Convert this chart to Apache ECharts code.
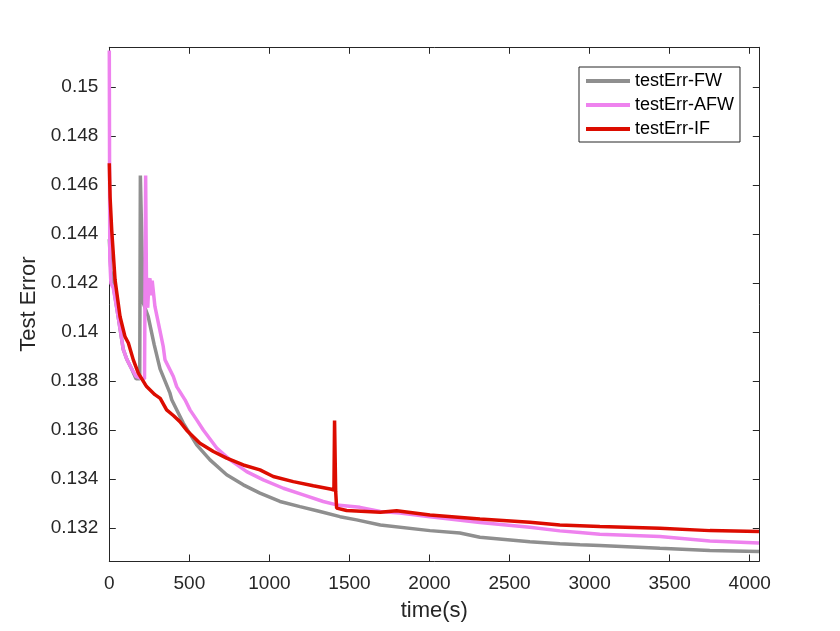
<!DOCTYPE html>
<html>
<head>
    <meta charset="utf-8">
    <title>Test Error vs time</title>
    <script src="https://cdn.jsdelivr.net/npm/echarts@6/dist/echarts.min.js"></script>
    <style>
        html, body { margin: 0; padding: 0; background: #fff; }
    </style>
</head>
<body>
    <div id="main" style="width: 840px;height:631px;"></div>

    <script type="text/javascript">

        // tick labels
        var xTicks = [0, 500, 1000, 1500, 2000, 2500, 3000, 3500, 4000];
        var yTicks = [0.132, 0.134, 0.136, 0.138, 0.14, 0.142, 0.144, 0.146, 0.148, 0.15];

        // testErr-FW (gray)
        var fwTime = [0, 10, 25, 56, 87, 109, 140, 167, 190, 194, 200, 212, 243, 280, 317, 379, 390, 462, 546, 629, 733, 837, 941, 1066, 1191, 1316, 1441, 1545, 1693, 2003, 2190, 2315, 2627, 2814, 2940, 3064, 3439, 3751, 4058];
        var fwErr  = [0.1438, 0.1425, 0.1419, 0.1406, 0.1393, 0.1389, 0.1385, 0.1381, 0.1381, 0.1464, 0.1464, 0.1412, 0.14064, 0.1395, 0.1385, 0.13751, 0.13724, 0.13629, 0.1354, 0.13479, 0.13418, 0.13377, 0.13343, 0.13309, 0.13288, 0.13268, 0.13247, 0.13234, 0.13213, 0.1319, 0.1318, 0.13163, 0.13145, 0.13136, 0.13132, 0.13129, 0.13118, 0.13109, 0.13105];

        // testErr-AFW (violet)
        var afwTime = [0, 3, 10, 25, 56, 87, 109, 140, 167, 202, 220, 227, 233, 240, 248, 254, 260, 268, 285, 337, 348, 400, 421, 473, 504, 546, 587, 671, 754, 858, 962, 1087, 1212, 1336, 1420, 1566, 1693, 1816, 2003, 2315, 2627, 2814, 2940, 3064, 3439, 3751, 4058];
        var afwErr  = [0.1515, 0.143, 0.142, 0.1418, 0.1406, 0.1393, 0.1389, 0.1385, 0.1382, 0.1381, 0.1381, 0.1464, 0.1412, 0.141, 0.1421, 0.1422, 0.1415, 0.1421, 0.14105, 0.13941, 0.13887, 0.13819, 0.13778, 0.13724, 0.13683, 0.13642, 0.13601, 0.13527, 0.13479, 0.13431, 0.13397, 0.13363, 0.13336, 0.13309, 0.13295, 0.13285, 0.13268, 0.13262, 0.13247, 0.13223, 0.13204, 0.13189, 0.13182, 0.13175, 0.13166, 0.13148, 0.13139];

        // testErr-IF (red)
        var ifTime = [0, 5, 15, 36, 67, 98, 119, 150, 181, 233, 285, 318, 358, 400, 441, 483, 566, 650, 733, 837, 941, 1024, 1149, 1274, 1388, 1403, 1407, 1414, 1420, 1482, 1693, 1795, 2003, 2315, 2627, 2814, 2940, 3064, 3439, 3751, 4058];
        var ifErr  = [0.1469, 0.1455, 0.14418, 0.14213, 0.14064, 0.13982, 0.13956, 0.13887, 0.13833, 0.13778, 0.13745, 0.1373, 0.13683, 0.1366, 0.13635, 0.136, 0.13547, 0.13513, 0.13486, 0.13458, 0.13438, 0.13411, 0.1339, 0.13373, 0.13359, 0.13356, 0.13639, 0.1335, 0.13282, 0.13272, 0.13265, 0.13271, 0.13254, 0.13237, 0.13224, 0.13213, 0.1321, 0.13207, 0.132, 0.1319, 0.13186];

        function pairs(t, v) {
            var out = [];
            for (var i = 0; i < t.length; i++) {
                out.push([t[i], v[i]]);
            }
            return out;
        }

        var axisColor = '#262626';
        var fontName = 'Liberation Sans, Arial, sans-serif';
        var xMin = 0, xMax = 4060;
        var yMin = 0.13066, yMax = 0.15163;

        function xFmt(v) { return String(Math.round(v)); }
        function yFmt(v) { return String(+v.toFixed(3)); }

        var myChart = echarts.init(document.getElementById('main'));

        var option = {
            backgroundColor: '#fff',
            animation: false,
            grid: { left: 109.3, top: 47.3, right: 80.7, bottom: 70, containLabel: false },
            legend: {
                orient: 'vertical',
                left: 579,
                top: 67,
                padding: [5, 6, 4, 7],
                itemGap: 6,
                itemWidth: 44,
                itemHeight: 4,
                icon: 'rect',
                borderColor: axisColor,
                borderWidth: 1,
                backgroundColor: '#fff',
                textStyle: { fontFamily: fontName, fontSize: 18, color: '#000', padding: [0, 0, 0, 0] },
                data: ['testErr-FW', 'testErr-AFW', 'testErr-IF']
            },
            xAxis: [{
                type: 'value', min: xMin, max: xMax, position: 'bottom',
                name: 'time(s)', nameLocation: 'middle', nameGap: 39,
                nameTextStyle: { fontFamily: fontName, fontSize: 22, color: axisColor },
                axisLine: { show: true, onZero: false, lineStyle: { color: axisColor, width: 1 } },
                axisTick: { show: true, inside: true, length: 6.5, customValues: xTicks, lineStyle: { color: axisColor } },
                axisLabel: { customValues: xTicks, margin: 13, formatter: xFmt, fontFamily: fontName, fontSize: 19, color: axisColor },
                splitLine: { show: false }
            }, {
                type: 'value', min: xMin, max: xMax, position: 'top',
                axisLine: { show: true, onZero: false, lineStyle: { color: axisColor, width: 1 } },
                axisTick: { show: true, inside: true, length: 6.5, customValues: xTicks, lineStyle: { color: axisColor } },
                axisLabel: { show: false },
                splitLine: { show: false }
            }],
            yAxis: [{
                type: 'value', min: yMin, max: yMax, position: 'left',
                name: 'Test Error', nameLocation: 'middle', nameGap: 62, nameRotate: 90,
                nameTextStyle: { fontFamily: fontName, fontSize: 22, color: axisColor },
                axisLine: { show: true, onZero: false, lineStyle: { color: axisColor, width: 1 } },
                axisTick: { show: true, inside: true, length: 6.5, customValues: yTicks, lineStyle: { color: axisColor } },
                axisLabel: { customValues: yTicks, margin: 11, formatter: yFmt, fontFamily: fontName, fontSize: 19, color: axisColor },
                splitLine: { show: false }
            }, {
                type: 'value', min: yMin, max: yMax, position: 'right',
                axisLine: { show: true, onZero: false, lineStyle: { color: axisColor, width: 1 } },
                axisTick: { show: true, inside: true, length: 6.5, customValues: yTicks, lineStyle: { color: axisColor } },
                axisLabel: { show: false },
                splitLine: { show: false }
            }],
            series: [{
                name: 'testErr-FW', type: 'line', showSymbol: false, symbol: 'none',
                color: '#8f8f8f', lineStyle: { width: 3.5, color: '#8f8f8f' },
                data: pairs(fwTime, fwErr)
            }, {
                name: 'testErr-AFW', type: 'line', showSymbol: false, symbol: 'none',
                color: '#ee82ee', lineStyle: { width: 3.5, color: '#ee82ee' },
                data: pairs(afwTime, afwErr)
            }, {
                name: 'testErr-IF', type: 'line', showSymbol: false, symbol: 'none',
                color: '#dc0c00', lineStyle: { width: 3.5, color: '#dc0c00' },
                data: pairs(ifTime, ifErr)
            }]
        };

        myChart.setOption(option);

    </script>

</body>
</html>
